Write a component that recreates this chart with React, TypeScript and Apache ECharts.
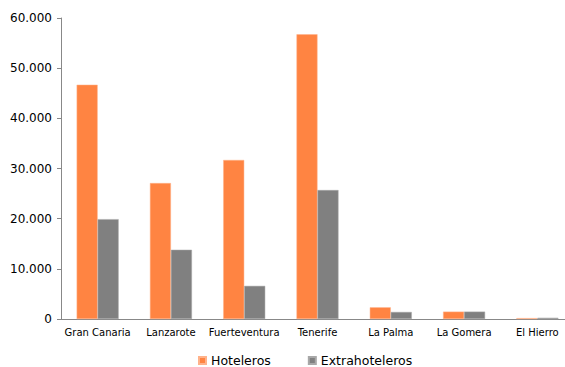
import React, { useEffect, useRef } from "react";
import * as echarts from "echarts";

const categories = ["Gran Canaria", "Lanzarote", "Fuerteventura", "Tenerife", "La Palma", "La Gomera", "El Hierro"];
const hoteleros = [46700, 27100, 31700, 56750, 2330, 1470, 180];
const extrahoteleros = [19900, 13800, 6600, 25700, 1400, 1470, 250];
const yTicks = [0, 10000, 20000, 30000, 40000, 50000, 60000];

const fmt = (v: number) => String(v).replace(/\B(?=(\d{3})+(?!\d))/g, ".");

export default function App() {
  const ref = useRef<HTMLDivElement>(null);
  useEffect(() => {
    const chart = echarts.init(ref.current!, null, { renderer: "svg" });
    const font = "Verdana, 'DejaVu Sans', sans-serif";
    chart.setOption({
      animation: false,
      textStyle: { fontFamily: font },
      grid: { left: 61, top: 18, width: 513, height: 301 },
      legend: {
        top: 354,
        left: 198,
        padding: 0,
        itemWidth: 7,
        itemHeight: 7,
        itemGap: 37,
        icon: "rect",
        textStyle: { fontSize: 12.5, color: "#000", fontFamily: font, padding: [0, 0, 0, 0] },
        data: ["Hoteleros", "Extrahoteleros"],
      },
      xAxis: {
        type: "category",
        data: categories,
        axisLine: { lineStyle: { color: "#888", width: 1 } },
        axisTick: { length: 5, lineStyle: { color: "#888" } },
        axisLabel: { fontSize: 10, color: "#000", margin: 8, interval: 0 },
      },
      yAxis: {
        type: "value",
        min: yTicks[0],
        max: yTicks[yTicks.length - 1],
        interval: 10000,
        splitLine: { show: false },
        axisLine: { show: true, lineStyle: { color: "#888", width: 1 } },
        axisTick: { show: true, length: 4, lineStyle: { color: "#888" } },
        axisLabel: { fontSize: 12, color: "#000", margin: 9, formatter: (v: number) => fmt(v) },
      },
      series: [
        {
          name: "Hoteleros",
          type: "bar",
          data: hoteleros,
          barWidth: 21,
          barGap: "0%",
          itemStyle: { color: "#FF8442", borderColor: "#FFB28A", borderWidth: 0.5 },
        },
        {
          name: "Extrahoteleros",
          type: "bar",
          data: extrahoteleros,
          barWidth: 21,
          barGap: "0%",
          itemStyle: { color: "#808080", borderColor: "#A8A8A8", borderWidth: 0.5 },
        },
      ],
    });
    return () => chart.dispose();
  }, []);
  return (
    <div style={{ width: 565, height: 367, position: "absolute", left: 0, top: 0, overflow: "hidden" }}>
      <div ref={ref} style={{ width: 580, height: 367 }} />
    </div>
  );
}
